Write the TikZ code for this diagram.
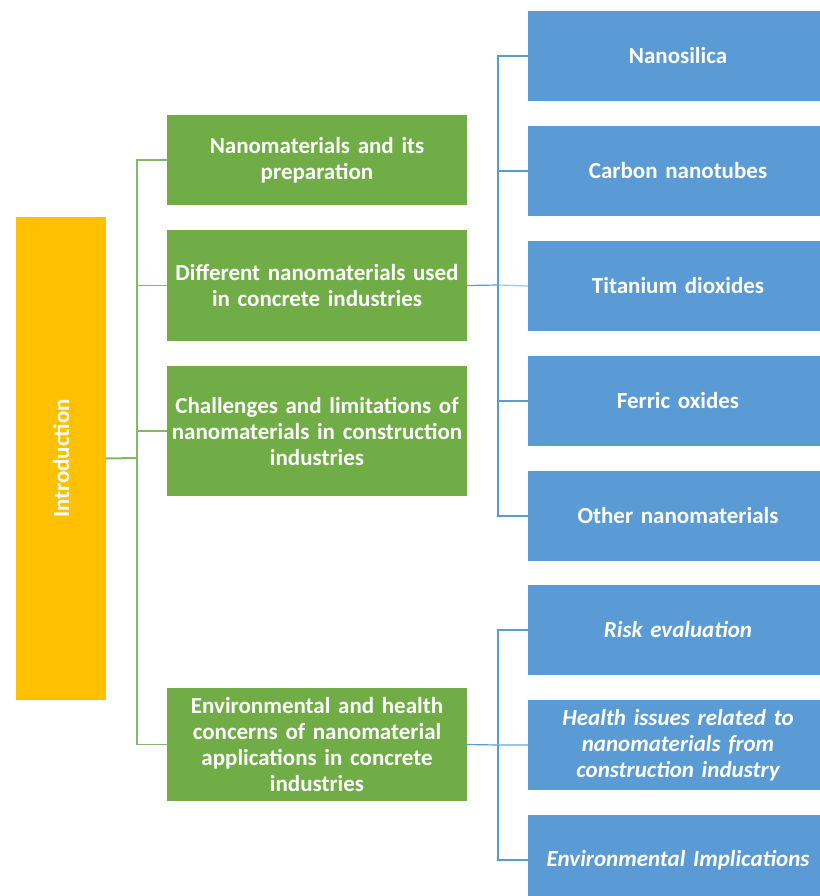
\documentclass[tikz,border=0pt]{standalone}
\usepackage{fontspec}
\setmainfont{Carlito}
\definecolor{introcol}{HTML}{FFC000}
\definecolor{topiccol}{HTML}{70AD47}
\definecolor{subcol}{HTML}{5B9BD5}
\begin{document}
\begin{tikzpicture}[x=1pt,y=-1pt,
    every node/.style={inner sep=0pt,text=white,font=\fontsize{23}{26}\selectfont\bfseries,align=center},
    introbox/.style={fill=introcol,minimum width=90,minimum height=483},
    topic/.style={fill=topiccol,minimum width=300,text width=295},
    sub/.style={fill=subcol,minimum width=300,minimum height=90,text width=290},
    gline/.style={draw=topiccol!85,line width=1.3pt},
    bline/.style={draw=subcol,line width=1.2pt}]
  \useasboundingbox (0,0) rectangle (819,896);
  \node[introbox] (intro) at (61,458.5) {};
  \node[rotate=90] at (intro.center) {Introduction};
  \node[topic,minimum height=90] (g1) at (317,160) {Nanomaterials and its\\preparation};
  \node[topic,minimum height=111] (g2) at (317,285.5) {Different nanomaterials used\\in concrete industries};
  \node[topic,minimum height=130] (g3) at (317,431) {Challenges and limitations of\\nanomaterials in construction\\industries};
  \node[topic,minimum height=113] (g4) at (317,744.5) {Environmental and health\\concerns of nanomaterial\\applications in concrete\\industries};
  \node[sub] (b1) at (678,56) {Nanosilica};
  \node[sub] (b2) at (678,171) {Carbon nanotubes};
  \node[sub] (b3) at (678,286) {Titanium dioxides};
  \node[sub] (b4) at (678,401) {Ferric oxides};
  \node[sub] (b5) at (678,516) {Other nanomaterials};
  \node[sub] (b6) at (678,630) {\itshape Risk evaluation};
  \node[sub] (b7) at (678,745) {\itshape Health issues related to\\\itshape nanomaterials from\\\itshape construction industry};
  \node[sub] (b8) at (678,860) {\itshape Environmental Implications};
  % green tree
  \coordinate (trunk) at (137,458);
  \draw[gline,line width=2pt] (intro.east) -- (trunk);
  \draw[gline] (trunk) |- (g1.west);
  \draw[gline] (trunk) |- (g2.west);
  \draw[gline] (trunk) |- (g3.west);
  \draw[gline] (trunk) |- (g4.west);
  % blue trees
  \coordinate (split1) at (498,285);
  \draw[bline] (g2.east) -- (split1);
  \draw[bline] (split1) |- (b1.west);
  \draw[bline] (split1) |- (b2.west);
  \draw[bline,draw=subcol!60] (split1) -- (b3.west);
  \draw[bline] (split1) |- (b4.west);
  \draw[bline] (split1) |- (b5.west);
  \coordinate (split2) at (498,745);
  \draw[bline] (g4.east) -- (split2);
  \draw[bline] (split2) |- (b6.west);
  \draw[bline,draw=subcol!60] (split2) -- (b7.west);
  \draw[bline] (split2) |- (b8.west);
\end{tikzpicture}
\end{document}
